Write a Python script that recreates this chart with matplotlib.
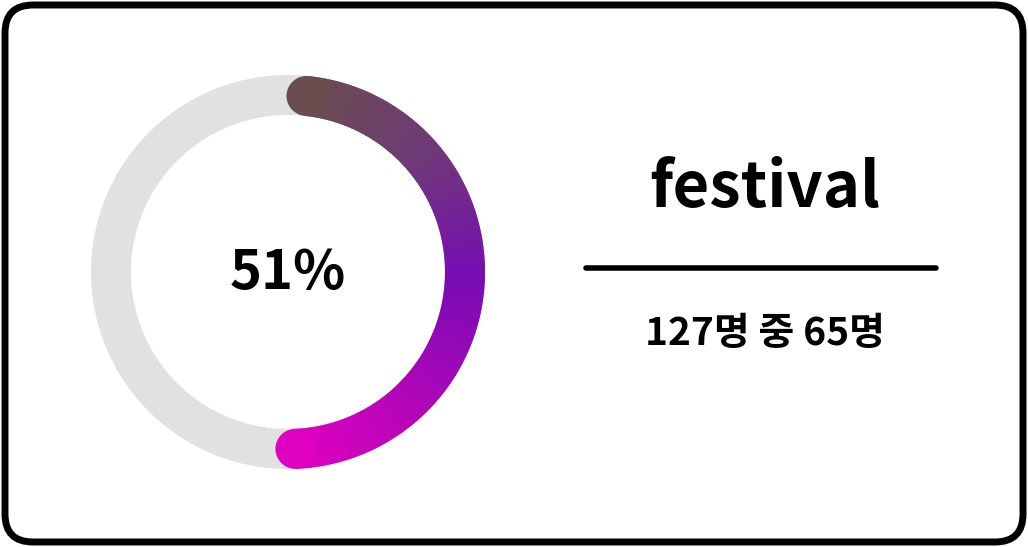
import numpy as np
import matplotlib
matplotlib.use("Agg")
import matplotlib.pyplot as plt
from matplotlib.patches import Wedge, Circle, FancyBboxPatch
from matplotlib.colors import LinearSegmentedColormap

plt.rcParams["font.family"] = ["Noto Sans CJK KR", "DejaVu Sans"]

label = "festival"
total = 127
count = 65
percent = round(count / total * 100)
subtitle = f"{total}명 중 {count}명"

W, H = 1028, 547
fig = plt.figure(figsize=(W / 100, H / 100), dpi=100)
ax = fig.add_axes([0, 0, 1, 1])
ax.set_xlim(0, W)
ax.set_ylim(H, 0)
ax.set_aspect("equal")
ax.axis("off")

# card
ax.add_patch(FancyBboxPatch((5, 5), W - 10, H - 10, boxstyle="round,pad=0,rounding_size=28",
                            fc="white", ec="black", lw=5))

cx, cy, r_out, ring = 288, 272, 197, 40
r_mid = r_out - ring / 2
ax.add_patch(Wedge((cx, cy), r_out, 0, 360, width=ring, fc="#e1e1e1", ec="none"))

cmap = LinearSegmentedColormap.from_list("g", ["#6a4d4f", "#6e3a78", "#780cb4", "#b006b8", "#e000c0"])
start, end = 84, 84 - (360 * percent / 100 - 12)
n = 300
angs = np.linspace(start, end, n + 1)
# screen y is flipped: use -angle for wedges so angles go clockwise visually
for i in range(n):
    a0, a1 = angs[i + 1], angs[i]
    c = cmap(i / n)
    ax.add_patch(Wedge((cx, cy), r_out, -a1, -a0 + 0.3, width=ring, fc=c, ec="none"))
for a, c in [(start, cmap(0.0)), (end, cmap(1.0))]:
    t = np.radians(a)
    ax.add_patch(Circle((cx + r_mid * np.cos(t), cy - r_mid * np.sin(t)), ring / 2, fc=c, ec="none"))

ax.text(cx, cy + 2, f"{percent}%", ha="center", va="center", fontsize=39, fontweight="bold")
ax.text(765, 188, label, ha="center", va="center", fontsize=45.5, fontweight="bold")
ax.plot([586, 936], [268, 268], color="black", lw=4, solid_capstyle="round")
ax.text(765, 333, subtitle, ha="center", va="center", fontsize=28, fontweight="bold")

fig.savefig("out.png", dpi=100)
